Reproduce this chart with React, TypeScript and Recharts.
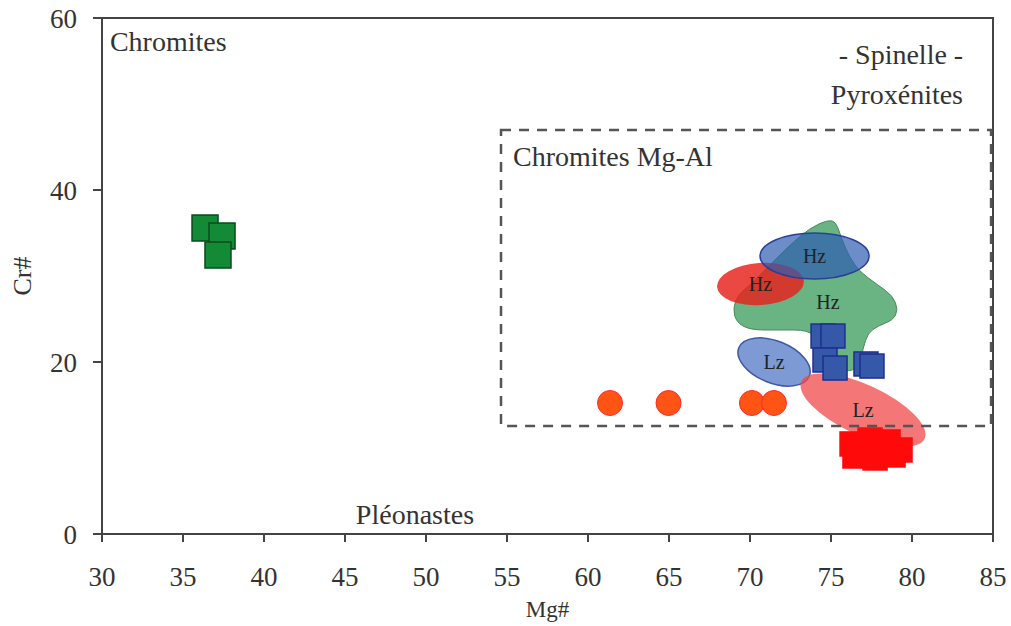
import React from 'react';
import { ScatterChart, Scatter, XAxis, YAxis, ReferenceArea } from 'recharts';

const FONT = '"Liberation Serif", "Times New Roman", serif';

const xTicks = [30, 35, 40, 45, 50, 55, 60, 65, 70, 75, 80, 85];
const yTicks = [0, 20, 40, 60];

// chromites (green squares, top-left)
const chromites = [
  { x: 36.36, y: 35.58 },
  { x: 37.41, y: 34.65 },
  { x: 37.16, y: 32.44 },
];

// blue squares inside the Mg-Al box
const blueSquares = [
  { x: 74.51, y: 23.02 },
  { x: 75.12, y: 23.02 },
  { x: 74.63, y: 20.23 },
  { x: 75.25, y: 19.3 },
  { x: 77.16, y: 19.77 },
  { x: 77.53, y: 19.53 },
];

// red squares below the box
const redSquares = [
  { x: 76.3, y: 10.47 },
  { x: 77.41, y: 10.93 },
  { x: 78.52, y: 10.7 },
  { x: 79.26, y: 9.77 },
  { x: 76.48, y: 9.07 },
  { x: 77.72, y: 8.84 },
  { x: 78.83, y: 9.19 },
  { x: 78.02, y: 10.0 },
];

// orange circles
const orangeCircles = [
  { x: 61.36, y: 15.23 },
  { x: 64.97, y: 15.23 },
  { x: 70.12, y: 15.23 },
  { x: 71.48, y: 15.23 },
];

// green Hz field outline
const hzField = [
  { x: 74.81, y: 36.51 }, { x: 75.31, y: 36.28 }, { x: 75.68, y: 34.19 },
  { x: 76.17, y: 32.09 }, { x: 76.79, y: 30.47 }, { x: 77.9, y: 28.95 },
  { x: 78.83, y: 27.67 }, { x: 79.14, y: 26.05 }, { x: 78.83, y: 24.88 },
  { x: 77.9, y: 24.19 }, { x: 77.28, y: 23.37 }, { x: 76.98, y: 21.63 },
  { x: 76.79, y: 19.65 }, { x: 76.17, y: 18.84 }, { x: 75.25, y: 19.3 },
  { x: 74.2, y: 22.56 }, { x: 73.58, y: 23.72 }, { x: 71.85, y: 23.72 },
  { x: 70.0, y: 23.72 }, { x: 69.14, y: 24.65 }, { x: 68.95, y: 26.28 },
  { x: 69.26, y: 27.79 }, { x: 70.0, y: 28.95 }, { x: 71.23, y: 31.28 },
  { x: 72.47, y: 33.6 }, { x: 73.7, y: 35.58 },
];
const hzFieldLabel = { x: 74.81, y: 26.98 };

// ellipses: unrotated extent in data units + tilt
const ellipses = [
  { label: 'Hz', x1: 67.96, x2: 73.33, y1: 26.63, y2: 31.51, angle: -4, fill: '#e8201a', opacity: 0.82, stroke: 'none' },
  { label: 'Hz', x1: 70.62, x2: 77.35, y1: 29.65, y2: 35.0, angle: 0, fill: '#2f5cb0', opacity: 0.7, stroke: '#2a3f9a' },
  { label: 'Lz', x1: 69.14, x2: 73.83, y1: 17.56, y2: 22.44, angle: 22, fill: '#6f8fcf', opacity: 0.9, stroke: '#3f5aa5' },
  { label: 'Lz', x1: 72.78, x2: 81.17, y1: 11.51, y2: 17.33, angle: 25, fill: '#f04848', opacity: 0.75, stroke: 'none' },
];

// Mg-Al chromite box
const mgAlBox = { x1: 54.63, x2: 84.88, y1: 12.56, y2: 46.98 };

const annotations = [
  { x: 30.49, y: 57.21, text: 'Chromites', anchor: 'start' },
  { x: 79.32, y: 55.7, text: '- Spinelle -', anchor: 'middle' },
  { x: 79.07, y: 51.05, text: 'Pyroxénites', anchor: 'middle' },
  { x: 55.37, y: 43.84, text: 'Chromites Mg-Al', anchor: 'start' },
  { x: 49.32, y: 2.21, text: 'Pléonastes', anchor: 'middle' },
];

const square = (size: number, fill: string, stroke: string) => (p: any) => (
  <rect
    x={p.cx - size / 2}
    y={p.cy - size / 2}
    width={size}
    height={size}
    fill={fill}
    stroke={stroke}
    strokeWidth={1.5}
  />
);

const circle = (p: any) => (
  <circle cx={p.cx} cy={p.cy} r={12.5} fill="#ff5414" stroke="#ff2a2a" strokeWidth={1} />
);

const annotationShape = (p: any) => (
  <text
    x={p.cx}
    y={p.cy}
    textAnchor={p.payload.anchor}
    dominantBaseline="central"
    fontFamily={FONT}
    fontSize={28}
    fill="#333"
  >
    {p.payload.text}
  </text>
);

const ellipseShape = (e: any) => (p: any) => {
  const cx = p.x + p.width / 2;
  const cy = p.y + p.height / 2;
  return (
    <g>
      <ellipse
        cx={cx}
        cy={cy}
        rx={p.width / 2}
        ry={p.height / 2}
        transform={`rotate(${e.angle} ${cx} ${cy})`}
        fill={e.fill}
        fillOpacity={e.opacity}
        stroke={e.stroke}
        strokeWidth={1.5}
      />
      <text x={cx} y={cy} textAnchor="middle" dominantBaseline="central" fontFamily={FONT} fontSize={20} fill="#222">
        {e.label}
      </text>
    </g>
  );
};

const fx1 = Math.min(...hzField.map(d => d.x));
const fx2 = Math.max(...hzField.map(d => d.x));
const fy1 = Math.min(...hzField.map(d => d.y));
const fy2 = Math.max(...hzField.map(d => d.y));

const fieldShape = (p: any) => {
  const toPx = (d: { x: number; y: number }) => [
    p.x + ((d.x - fx1) / (fx2 - fx1)) * p.width,
    p.y + ((fy2 - d.y) / (fy2 - fy1)) * p.height,
  ];
  const pts = hzField.map(toPx);
  const n = pts.length;
  const mid = (a: number[], b: number[]) => [(a[0] + b[0]) / 2, (a[1] + b[1]) / 2];
  // smooth closed outline through midpoints
  const start = mid(pts[n - 1], pts[0]);
  let d = `M${start[0]},${start[1]}`;
  for (let i = 0; i < n; i++) {
    const m = mid(pts[i], pts[(i + 1) % n]);
    d += ` Q${pts[i][0]},${pts[i][1]} ${m[0]},${m[1]}`;
  }
  const lab = toPx(hzFieldLabel);
  return (
    <g>
      <path d={d + 'Z'} fill="#5aab74" fillOpacity={0.9} stroke="#4a8a5a" strokeWidth={1} />
      <text x={lab[0]} y={lab[1]} textAnchor="middle" dominantBaseline="central" fontFamily={FONT} fontSize={20} fill="#222">
        Hz
      </text>
    </g>
  );
};

export default function App() {
  return (
    <div style={{ position: 'absolute', left: 0, top: 0, background: '#fff' }}>
      <ScatterChart width={1011} height={626} margin={{ top: 18, right: 18, left: 42, bottom: 32 }}>
        <XAxis
          type="number"
          dataKey="x"
          domain={[30, 85]}
          ticks={xTicks}
          allowDataOverflow
          height={60}
          tickSize={8}
          tickMargin={25}
          stroke="#444"
          strokeWidth={2}
          tick={{ fontSize: 27, fontFamily: FONT, fill: '#333' }}
          label={{
            content: (p: any) => (
              <text
                x={p.viewBox.x + p.viewBox.width / 2}
                y={p.viewBox.y + p.viewBox.height + 15}
                textAnchor="middle"
                dominantBaseline="central"
                fontFamily={FONT}
                fontSize={23}
                fill="#333"
              >
                Mg#
              </text>
            ),
          }}
        />
        <YAxis
          type="number"
          dataKey="y"
          domain={[0, 60]}
          ticks={yTicks}
          allowDataOverflow
          width={60}
          tickSize={9}
          tickMargin={16}
          stroke="#444"
          strokeWidth={2}
          tick={{ fontSize: 27, fontFamily: FONT, fill: '#333' }}
          label={{
            content: (p: any) => {
              const x = p.viewBox.x - 20;
              const y = p.viewBox.y + p.viewBox.height / 2;
              return (
                <text
                  x={x}
                  y={y}
                  transform={`rotate(-90 ${x} ${y})`}
                  textAnchor="middle"
                  dominantBaseline="central"
                  fontFamily={FONT}
                  fontSize={26}
                  fill="#333"
                >
                  Cr#
                </text>
              );
            },
          }}
        />

        {/* plot frame */}
        <ReferenceArea x1={30} x2={85} y1={0} y2={60} fill="none" fillOpacity={0} stroke="#444" strokeWidth={2} ifOverflow="visible" />

        {/* Hz field + ellipses */}
        <ReferenceArea x1={fx1} x2={fx2} y1={fy1} y2={fy2} shape={fieldShape} />
        {ellipses.map((e, i) => (
          <ReferenceArea key={i} x1={e.x1} x2={e.x2} y1={e.y1} y2={e.y2} shape={ellipseShape(e)} />
        ))}

        {/* Mg-Al box */}
        <ReferenceArea
          x1={mgAlBox.x1}
          x2={mgAlBox.x2}
          y1={mgAlBox.y1}
          y2={mgAlBox.y2}
          fill="none"
          fillOpacity={0}
          stroke="#555"
          strokeWidth={2.5}
          strokeDasharray="10 8"
        />

        <Scatter data={chromites} shape={square(26, '#138a36', '#0b4a1c')} isAnimationActive={false} />
        <Scatter data={orangeCircles} shape={circle} isAnimationActive={false} />
        <Scatter data={blueSquares} shape={square(24, '#3558a8', '#1f2f8f')} isAnimationActive={false} />
        <Scatter data={redSquares} shape={square(24, '#ff0a0a', '#ff0a0a')} isAnimationActive={false} />
        <Scatter data={annotations} shape={annotationShape} isAnimationActive={false} />
      </ScatterChart>
    </div>
  );
}
